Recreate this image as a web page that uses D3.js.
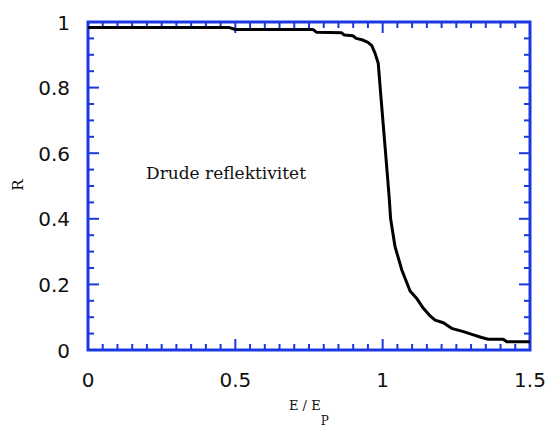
<!DOCTYPE html>
<html>
<head>
<meta charset="utf-8">
<script src="https://cdn.jsdelivr.net/npm/d3@7"></script>
<style>
  html, body { margin: 0; padding: 0; background: #fff; }
  svg { display: block; }
</style>
</head>
<body>
<svg id="chart" width="550" height="429"></svg>
<script>
// Reflectivity of a Drude metal versus photon energy in units of the plasma energy
const energy = [0, 0.48, 0.50, 0.764, 0.775, 0.861, 0.870, 0.899, 0.91, 0.933, 0.950, 0.963, 0.974, 0.985,
                0.995, 1.009, 1.022, 1.027, 1.042, 1.065, 1.093, 1.115, 1.138, 1.160, 1.178, 1.206, 1.234,
                1.274, 1.308, 1.336, 1.358, 1.409, 1.421, 1.5];
const reflectivity = [0.983, 0.983, 0.977, 0.977, 0.969, 0.967, 0.960, 0.958, 0.950, 0.945, 0.938, 0.928, 0.905, 0.874,
                      0.762, 0.61, 0.467, 0.40, 0.315, 0.244, 0.18, 0.158, 0.127, 0.105, 0.091, 0.083, 0.066,
                      0.056, 0.046, 0.038, 0.033, 0.033, 0.025, 0.025];
const xTicks = [0, 0.5, 1, 1.5];
const yTicks = [0, 0.2, 0.4, 0.6, 0.8, 1];
const xTickLabels = ["0", "0.5", "1", "1.5"];
const yTickLabels = ["0", "0.2", "0.4", "0.6", "0.8", "1"];
const note = "Drude reflektivitet";

const svg = d3.select("#chart");
const plotLeft = 88, plotRight = 530, plotTop = 22, plotBottom = 350;
const x = d3.scaleLinear().domain([0, 1.5]).range([plotLeft, plotRight]);
const y = d3.scaleLinear().domain([0, 1]).range([plotBottom, plotTop]);
const blue = "#1a37e0";

// minor ticks every 0.05, majors at the labelled values
const xMinor = d3.range(0, 31).map(i => i * 0.05);
const yMinor = d3.range(0, 21).map(i => i * 0.05);
const isMajor = (v, list) => list.some(t => Math.abs(t - v) < 1e-6);

const tickG = svg.append("g").attr("stroke", blue).attr("stroke-width", 2);
xMinor.forEach(v => {
  const len = isMajor(v, xTicks) ? 11 : 6;
  tickG.append("line").attr("x1", x(v)).attr("x2", x(v)).attr("y1", plotBottom).attr("y2", plotBottom - len);
  tickG.append("line").attr("x1", x(v)).attr("x2", x(v)).attr("y1", plotTop).attr("y2", plotTop + len);
});
yMinor.forEach(v => {
  const len = isMajor(v, yTicks) ? 11 : 6;
  tickG.append("line").attr("y1", y(v)).attr("y2", y(v)).attr("x1", plotLeft).attr("x2", plotLeft + len);
  tickG.append("line").attr("y1", y(v)).attr("y2", y(v)).attr("x1", plotRight).attr("x2", plotRight - len);
});

// frame
svg.append("rect")
  .attr("x", plotLeft).attr("y", plotTop)
  .attr("width", plotRight - plotLeft).attr("height", plotBottom - plotTop)
  .attr("fill", "none").attr("stroke", blue).attr("stroke-width", 3);

// tick labels
const labelFont = "'DejaVu Sans', sans-serif";
svg.append("g").selectAll("text").data(xTicks).join("text")
  .attr("x", d => x(d)).attr("y", 387)
  .attr("text-anchor", "middle")
  .attr("font-family", labelFont).attr("font-size", 20)
  .attr("fill", "#111")
  .text((d, i) => xTickLabels[i]);
svg.append("g").selectAll("text").data(yTicks).join("text")
  .attr("x", 70).attr("y", d => y(d) + 7.5)
  .attr("text-anchor", "end")
  .attr("font-family", labelFont).attr("font-size", 20)
  .attr("fill", "#111")
  .text((d, i) => yTickLabels[i]);

// axis titles
const serif = "'DejaVu Serif', serif";
svg.append("text")
  .attr("transform", "translate(23,185) rotate(-90)")
  .attr("text-anchor", "middle")
  .attr("font-family", serif).attr("font-size", 15)
  .attr("fill", "#111")
  .text("R");
const xt = svg.append("text")
  .attr("x", 289).attr("y", 410)
  .attr("font-family", serif).attr("font-size", 13)
  .attr("fill", "#111");
xt.append("tspan").text("E / E");
xt.append("tspan").attr("dy", 15).attr("font-size", 12).text("P");

// annotation
svg.append("text")
  .attr("x", 146).attr("y", 179)
  .attr("font-family", serif).attr("font-size", 17)
  .attr("fill", "#111")
  .text(note);

// reflectivity curve
const pts = energy.map((e, i) => [e, reflectivity[i]]);
svg.append("path")
  .datum(pts)
  .attr("fill", "none")
  .attr("stroke", "#000")
  .attr("stroke-width", 3)
  .attr("stroke-linejoin", "round")
  .attr("d", d3.line().x(d => x(d[0])).y(d => y(d[1])));
</script>
</body>
</html>
